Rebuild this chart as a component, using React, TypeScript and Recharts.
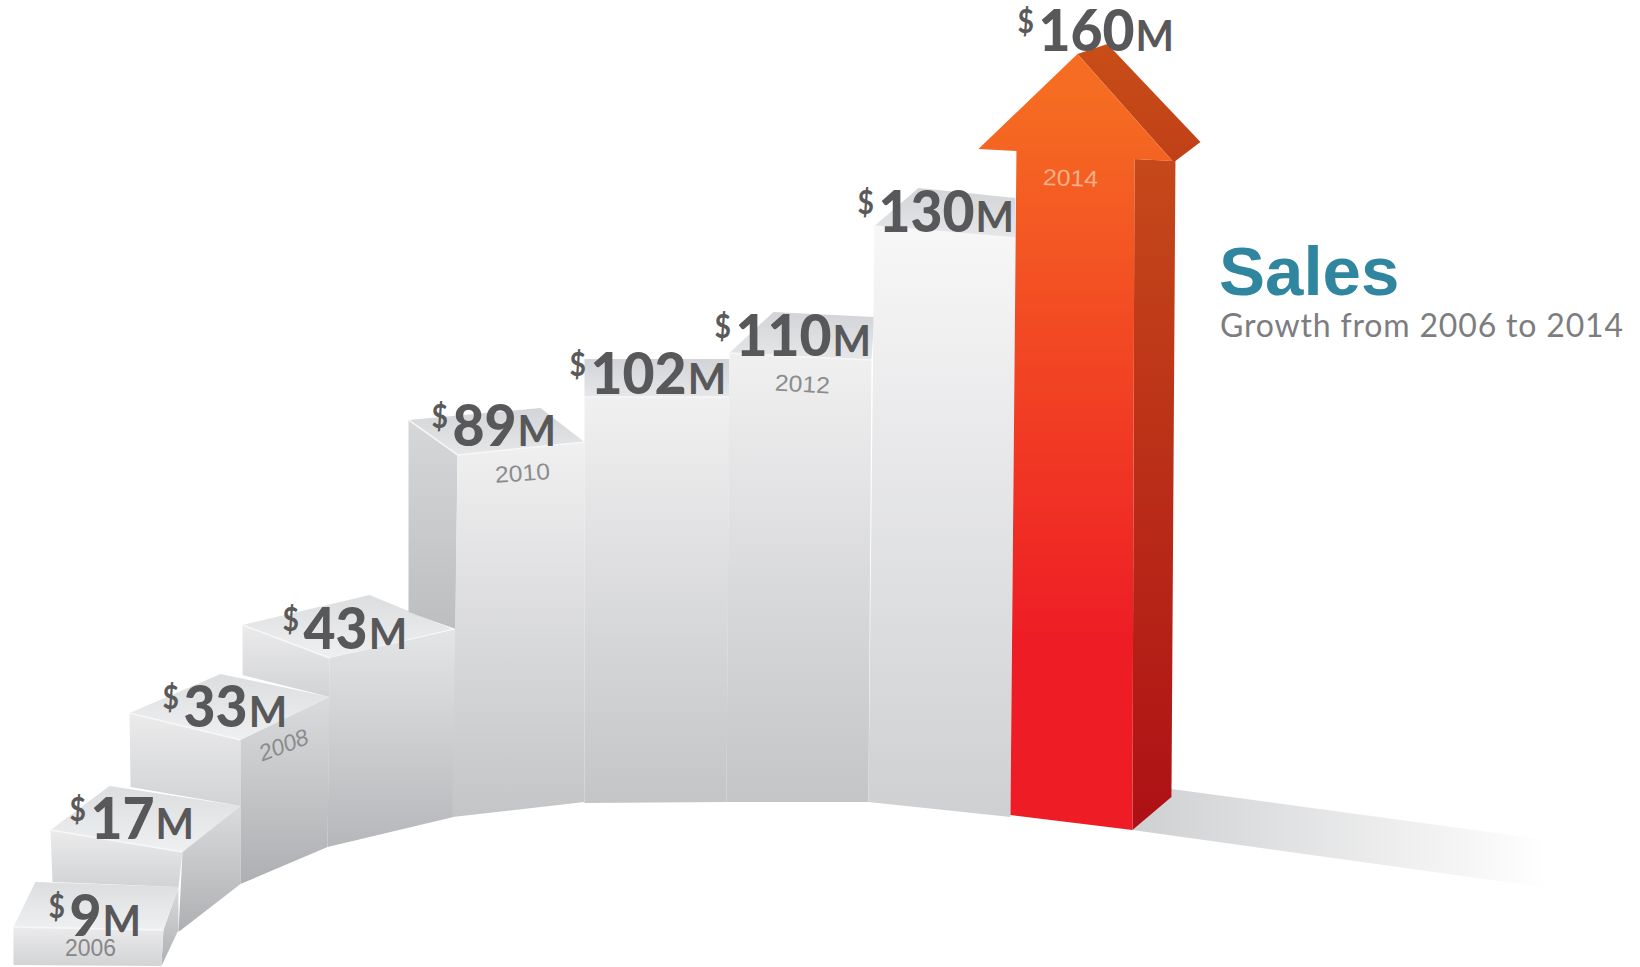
import { BarChart, Bar, XAxis, YAxis, LabelList } from "recharts";

const years = [2006, 2007, 2008, 2009, 2010, 2011, 2012, 2013, 2014];
const sales = [9, 17, 33, 43, 89, 102, 110, 130, 160];
const labelledYears = [2006, 2008, 2010, 2012, 2014];

const chartData = years.map((year, i) => ({ year, sales: sales[i] }));

// the picture is a pictogram: neither axis is linear, so both are calibrated on the steps
const xKnots = [2005, ...years, 2015];
const xPlaces = [0, 0.0079, 0.0305, 0.0787, 0.1476, 0.2488, 0.3561, 0.4445, 0.5329, 0.6195, 1];
const yKnots = [0, ...sales, 170];
const yPlaces = [0, 0.0414, 0.1417, 0.2627, 0.3537, 0.5657, 0.5895, 0.6349, 0.7663, 0.9545, 1];

function pictureScale(knots: number[], places: number[], start = [0, 1]) {
  let range = start;
  const scale: any = (v: number) => {
    let i = 0;
    while (i < knots.length - 2 && v > knots[i + 1]) i++;
    const f = places[i] + ((v - knots[i]) / (knots[i + 1] - knots[i])) * (places[i + 1] - places[i]);
    return range[0] + (range[1] - range[0]) * f;
  };
  scale.domain = (d?: number[]) => (d ? scale : [knots[0], knots[knots.length - 1]]);
  scale.range = (r?: number[]) => {
    if (!r) return range;
    range = r;
    return scale;
  };
  scale.copy = () => pictureScale(knots, places, range);
  scale.ticks = () => knots;
  return scale;
}

// corner of a face: t = from the top of the step, b = from the foot of the bar
type Corner = ["t" | "b", number, number];
const t = (dx: number, dy: number): Corner => ["t", dx, dy];
const b = (dx: number, dy: number): Corner => ["b", dx, dy];

const stepFaces: { fill: string; corners: Corner[]; lit?: boolean }[][] = [
  [
    { fill: "sideLow", corners: [t(165, -40), t(150, 3), b(148, -3), b(165, -39)] },
    { fill: "topLow", corners: [t(22, -45), t(165, -40), t(150, 3), t(0, 0)] },
    { fill: "frontLow", lit: true, corners: [t(0, 0), t(150, 3), b(148, -3), b(0, -4)] },
  ],
  [
    { fill: "topLow", corners: [t(0, 0), t(59, -44), t(190, -24), t(132, 22)] },
    { fill: "frontLow", lit: true, corners: [t(0, 0), t(132, 22), b(128, -82), b(2, -87)] },
    { fill: "sideLow", corners: [t(132, 22), t(190, -24), b(190, -85), b(128, -37)] },
  ],
  [
    { fill: "topLow", corners: [t(0, 0), t(91, -39), t(200, -16), t(111, 27)] },
    { fill: "frontLow", lit: true, corners: [t(0, 0), t(111, 27), b(111, -163), b(1, -182)] },
    { fill: "sideLow", corners: [t(111, 27), t(200, -16), b(198, -122), b(111, -85)] },
  ],
  [
    { fill: "topLow", corners: [t(0, 0), t(127, -30), t(210, 4), t(87, 33)] },
    { fill: "frontLow", lit: true, corners: [t(0, 0), t(87, 33), b(87, -272), b(0, -294)] },
    { fill: "sideMid", corners: [t(87, 33), t(214, 4), b(211, -152), b(85, -122)] },
  ],
  [
    { fill: "topTall", corners: [t(0, 0), t(132, -12), t(176, 22), t(49, 35)] },
    { fill: "leftTall", lit: true, corners: [t(0, 0), t(49, 35), b(47, -340), b(0, -357)] },
    { fill: "frontTall", lit: true, corners: [t(49, 35), t(176, 22), b(176, -167), b(44, -152)] },
  ],
  [
    { fill: "topTall", corners: [t(0, -38), t(145, -38), t(145, 0), t(0, 0)] },
    { fill: "frontTall", lit: true, corners: [t(0, 0), t(145, 0), b(142, -167), b(0, -166)] },
  ],
  [
    { fill: "topTall", corners: [t(0, 0), t(44, -41), t(145, -36), t(142, 7)] },
    { fill: "frontTall", lit: true, corners: [t(0, 0), t(142, 7), b(139, -167), b(-3, -167)] },
  ],
  [
    { fill: "topTall", corners: [t(0, 0), t(44, -38), t(141, -28), t(141, 12)] },
    { fill: "frontBright", lit: true, corners: [t(0, 0), t(141, 12), b(136, -152), b(-6, -167)] },
  ],
  [
    { fill: "floorShadow", corners: [b(155, -180), b(532, -129), b(532, -81), b(116, -139)] },
    { fill: "arrowSide", corners: [t(118, 115), t(159, 117), b(155, -172), b(116, -139)] },
    { fill: "arrowHeadSide", corners: [t(61, 10), t(91, 0), t(184, 98), t(159, 117), t(156, 117)] },
    {
      fill: "arrowFront",
      corners: [t(61, 10), t(156, 117), t(118, 115), b(116, -139), b(-6, -154), t(0, 107), t(-38, 105)],
    },
  ],
];

// where each value label starts, from the top of its step
const amountOffsets = [
  [56, 9],
  [40, 9],
  [54, 14],
  [61, 24],
  [44, 26],
  [6, -3],
  [6, 3],
  [4, 6],
  [22, 7],
];

const yearStyles: Record<number, { dx: number; dy: number; turn: number; color: string; span: number; italic?: boolean }> = {
  2006: { dx: 77, dy: 21, turn: 0, color: "#878789", span: 51 },
  2008: { dx: 154, dy: 32, turn: -21, color: "#8b8b8d", span: 51, italic: true },
  2010: { dx: 114, dy: 53, turn: -4, color: "#8c8c8e", span: 55 },
  2012: { dx: 73, dy: 31, turn: 3, color: "#8c8c8e", span: 55 },
  2014: { dx: 54, dy: 134, turn: 2, color: "#f9b08a", span: 55 },
};

const StepShape = (props: any) => {
  const { x, y, width, height, index } = props;
  const left = x + width / 2;
  const foot = y + height + 2;
  const place = ([from, dx, dy]: Corner) => `${left + dx},${(from === "t" ? y : foot) + dy}`;
  return (
    <g>
      {stepFaces[index].map((face, i) => (
        <g key={i}>
          <polygon fill={`url(#${face.fill})`} points={face.corners.map(place).join(" ")} />
          {face.lit && (
            <polyline
              points={face.corners.slice(0, 2).map(place).join(" ")}
              stroke="#f7f7f8"
              strokeWidth={1.5}
              fill="none"
            />
          )}
        </g>
      ))}
    </g>
  );
};

const StepLabel = (props: any) => {
  const { x, y, width, value, index } = props;
  const left = x + width / 2;
  const [dx, dy] = amountOffsets[index];
  const year = years[index];
  const yearStyle = yearStyles[year];
  return (
    <g>
      <text
        transform={`translate(${left + dx - 21} ${y + dy - 18}) scale(0.86 1)`}
        fontFamily="Lato"
        fontWeight={700}
        fontSize={33}
        fill="#5a5a5a"
      >
        $
      </text>
      <text
        transform={`translate(${left + dx} ${y + dy}) scale(0.97 1)`}
        fontFamily="Lato"
        fontWeight={900}
        fontSize={57}
        fill="#58585a"
      >
        {value}
        <tspan fontSize={42} fontWeight={700} dx={1}>
          M
        </tspan>
      </text>
      {labelledYears.includes(year) && (
        <text
          x={left + yearStyle.dx}
          y={y + yearStyle.dy}
          textAnchor="middle"
          dominantBaseline="central"
          fontFamily="Liberation Sans"
          fontSize={23}
          fontStyle={yearStyle.italic ? "italic" : "normal"}
          fill={yearStyle.color}
          textLength={yearStyle.span}
          lengthAdjust="spacingAndGlyphs"
          transform={`rotate(${yearStyle.turn} ${left + yearStyle.dx} ${y + yearStyle.dy})`}
        >
          {year}
        </text>
      )}
    </g>
  );
};

const fade = (id: string, top: string, bottom: string) => (
  <linearGradient id={id} x1="0" y1="0" x2="0" y2="1">
    <stop offset="0" stopColor={top} />
    <stop offset="1" stopColor={bottom} />
  </linearGradient>
);

export default function App() {
  return (
    <div style={{ position: "absolute", left: 0, top: 0, width: 1640, height: 967, background: "#fff" }}>
      <BarChart width={1640} height={967} data={chartData} margin={{ top: 0, right: 0, bottom: 0, left: 0 }} barSize={10}>
        <defs>
          {fade("topLow", "#dcdddf", "#eff0f1")}
          {fade("frontLow", "#ebebec", "#d2d3d5")}
          {fade("sideLow", "#dadbdc", "#aeafb2")}
          {fade("sideMid", "#e4e5e6", "#b6b7ba")}
          {fade("topTall", "#d3d4d7", "#e6e7e9")}
          {fade("leftTall", "#d6d7d9", "#bdbec0")}
          {fade("frontTall", "#f0f0f1", "#c4c5c7")}
          {fade("frontBright", "#f7f7f8", "#cfd0d2")}
          {fade("arrowSide", "#c5491a", "#ae1015")}
          {fade("arrowHeadSide", "#c84e18", "#c04017")}
          <linearGradient id="arrowFront" x1="0" y1="0" x2="0" y2="1">
            <stop offset="0.05" stopColor="#f56c22" />
            <stop offset="0.76" stopColor="#ee1c25" />
          </linearGradient>
          <linearGradient id="floorShadow" x1="0" y1="0" x2="1" y2="0">
            <stop offset="0" stopColor="#cfd0d2" />
            <stop offset="1" stopColor="#ffffff" />
          </linearGradient>
        </defs>
        <XAxis type="number" dataKey="year" domain={[2005, 2015]} scale={pictureScale(xKnots, xPlaces)} hide />
        <YAxis type="number" domain={[0, 170]} scale={pictureScale(yKnots, yPlaces)} hide />
        <Bar dataKey="sales" isAnimationActive={false} shape={StepShape}>
          <LabelList dataKey="sales" content={StepLabel} />
        </Bar>
        <text x={1219} y={295} fontFamily="Liberation Sans" fontWeight={700} fontSize={69} fill="#30869f">
          Sales
        </text>
        <text x={1220} y={337} fontFamily="Lato" fontSize={32} fill="#7d7d7f" textLength={403}>
          Growth from 2006 to 2014
        </text>
      </BarChart>
    </div>
  );
}
